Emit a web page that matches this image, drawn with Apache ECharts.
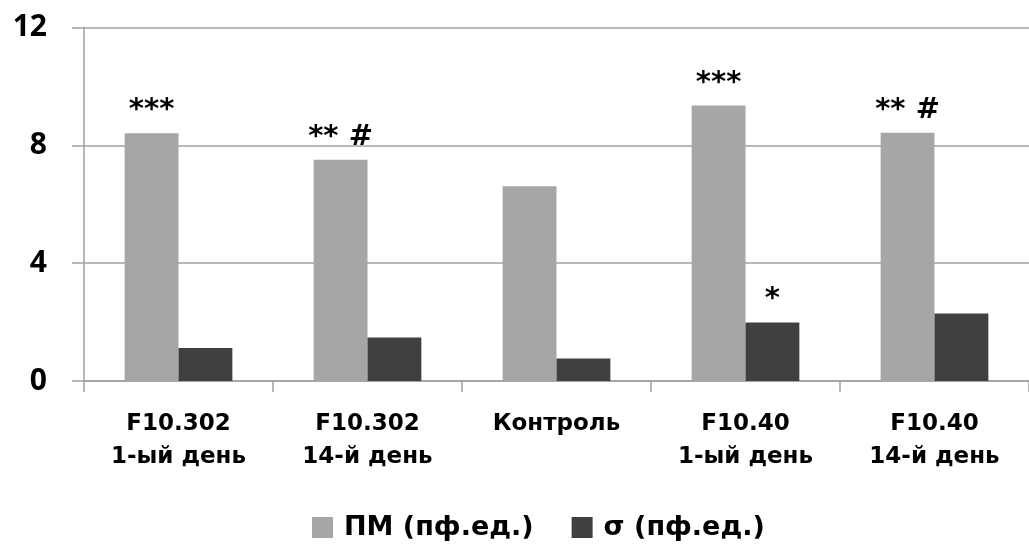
<!DOCTYPE html>
<html>
<head>
<meta charset="utf-8">
<script src="https://cdn.jsdelivr.net/npm/echarts@6/dist/echarts.min.js"></script>
<style>
  html, body { margin: 0; padding: 0; background: #fff; }
  #chart { width: 1029px; height: 544px; }
</style>
</head>
<body>
<div id="chart"></div>
<script>
// Groups along the x axis
const categories = ['F10.302\n1-ый день', 'F10.302\n14-й день', 'Контроль', 'F10.40\n1-ый день', 'F10.40\n14-й день'];
// Series names
const seriesNames = ['ПМ (пф.ед.)', 'σ (пф.ед.)'];
// Perfusion index (ПМ) per group
const pmValues = [8.41, 7.51, 6.61, 9.35, 8.43];
// Sigma per group
const sigmaValues = [1.12, 1.48, 0.76, 1.99, 2.29];
// Significance marks above each bar
const pmMarks = ['***', '** #', '', '***', '** #'];
const sigmaMarks = ['', '', '', '*', ''];
// Y axis scale
const yMin = 0, yMax = 12, yStep = 4;

const gridColor = '#a0a0a0';
const textFont = 'DejaVu Sans';

const markLabel = (marks) => ({
  show: true,
  position: 'top',
  distance: 8,
  color: '#000',
  fontFamily: textFont,
  fontWeight: 'bold',
  fontSize: 29,
  formatter: (p) => marks[p.dataIndex]
});

const chart = echarts.init(document.getElementById('chart'), null, { renderer: 'canvas' });
chart.setOption({
  animation: false,
  backgroundColor: '#fff',
  grid: { left: 84, right: -11.5, top: 27.5, bottom: 163 },
  legend: {
    data: seriesNames,
    left: 307,
    top: 509,
    icon: 'rect',
    itemWidth: 21,
    itemHeight: 21,
    itemGap: 38,
    textStyle: { color: '#000', fontFamily: textFont, fontWeight: 'bold', fontSize: 27, padding: [0, 0, 0, 6] }
  },
  xAxis: {
    type: 'category',
    data: categories,
    axisLine: { show: true, lineStyle: { color: gridColor, width: 1.5 } },
    axisTick: { show: true, length: 11, interval: 0, lineStyle: { color: gridColor, width: 1.5 } },
    axisLabel: {
      interval: 0,
      margin: 27,
      color: '#000',
      fontFamily: textFont,
      fontWeight: 'bold',
      fontSize: 23,
      lineHeight: 33
    }
  },
  yAxis: {
    type: 'value',
    min: yMin,
    max: yMax,
    interval: yStep,
    axisLine: { show: true, lineStyle: { color: gridColor, width: 1.5 } },
    axisTick: { show: true, length: 12, lineStyle: { color: gridColor, width: 1.5 } },
    splitLine: { show: true, lineStyle: { color: gridColor, width: 1.5 } },
    axisLabel: {
      margin: 37,
      color: '#000',
      fontFamily: 'Open Sans',
      fontWeight: 'bold',
      fontSize: 30
    }
  },
  series: [
    {
      name: seriesNames[0],
      type: 'bar',
      data: pmValues,
      barGap: '0%',
      barCategoryGap: '43%',
      itemStyle: { color: '#a6a6a6' },
      label: markLabel(pmMarks)
    },
    {
      name: seriesNames[1],
      type: 'bar',
      data: sigmaValues,
      barGap: '0%',
      barCategoryGap: '43%',
      itemStyle: { color: '#404040' },
      label: markLabel(sigmaMarks)
    }
  ]
});
</script>
</body>
</html>
